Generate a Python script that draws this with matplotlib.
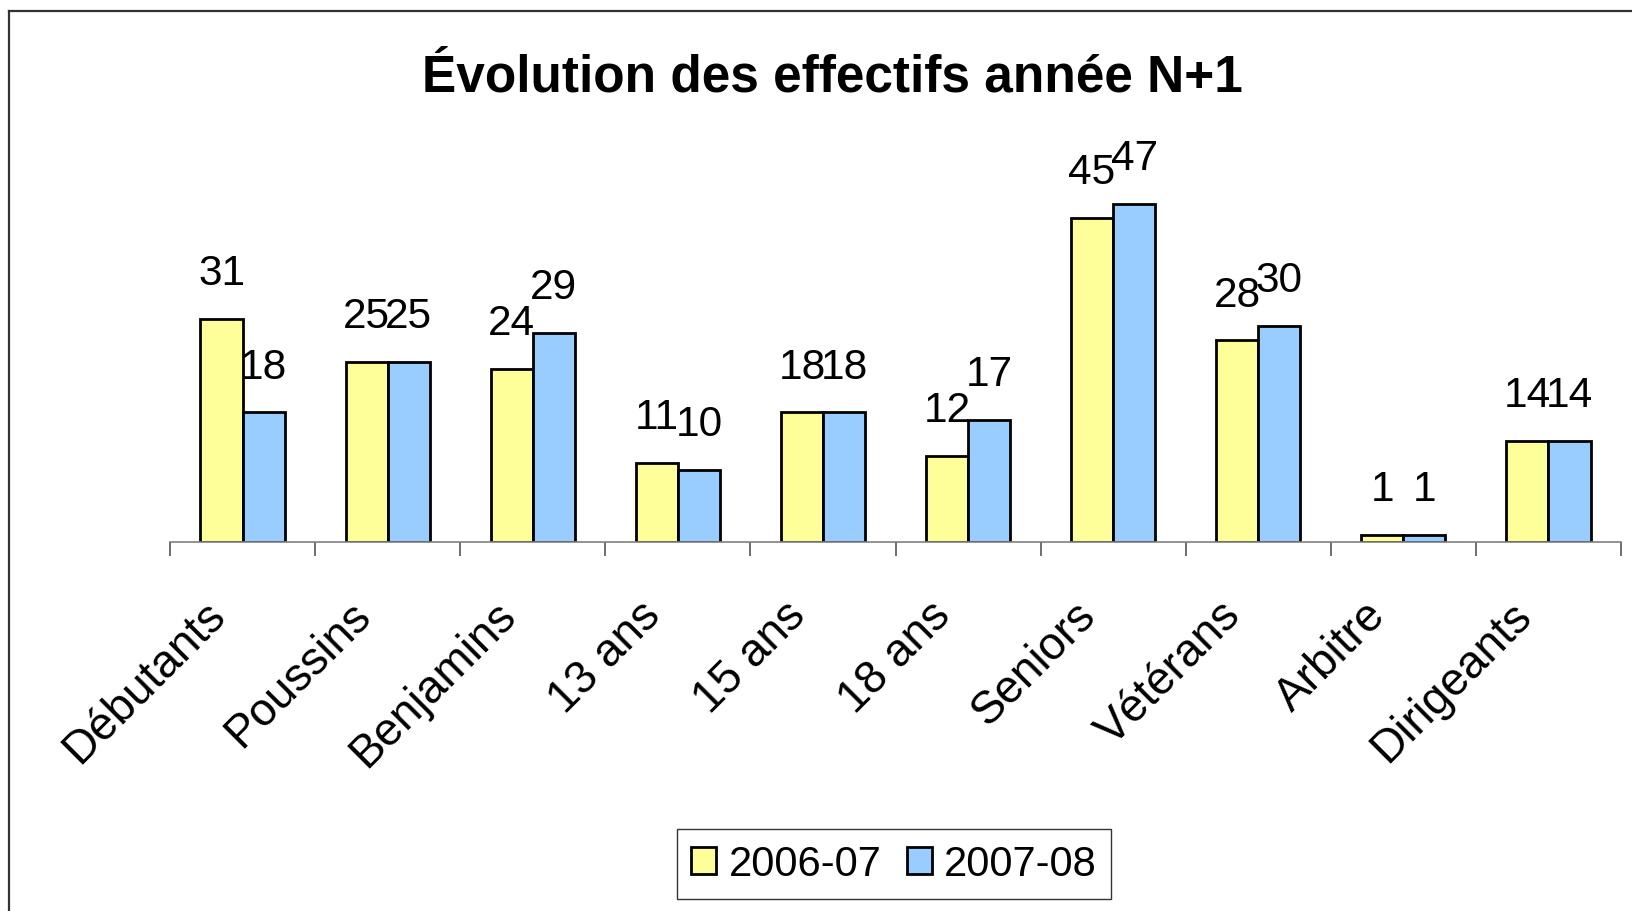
import matplotlib
matplotlib.use("Agg")
import matplotlib.pyplot as plt
import matplotlib.transforms as mtransforms
import numpy as np
from matplotlib.lines import Line2D

plt.rcParams['font.family'] = ['Liberation Sans', 'DejaVu Sans']

categories = ["Débutants", "Poussins", "Benjamins", "13 ans", "15 ans",
              "18 ans", "Seniors", "Vétérans", "Arbitre", "Dirigeants"]
saison_0607 = [31, 25, 24, 11, 18, 12, 45, 28, 1, 14]
saison_0708 = [18, 25, 29, 10, 18, 17, 47, 30, 1, 14]
series_names = ["2006-07", "2007-08"]

fig = plt.figure(figsize=(16.32, 9.12), dpi=100)
ax = fig.add_axes([170/1632, 1-543/912, (1621-170)/1632, 360/912])

x = np.arange(len(categories))
w = 0.29
b1 = ax.bar(x - w/2, saison_0607, w, color="#FFFF99", edgecolor="black",
            linewidth=2, label=series_names[0])
b2 = ax.bar(x + w/2, saison_0708, w, color="#99CCFF", edgecolor="black",
            linewidth=2, label=series_names[1])

for bars in (b1, b2):
    for r in bars:
        ax.annotate(str(int(r.get_height())),
                    (r.get_x() + r.get_width()/2, r.get_height()),
                    xytext=(0, 25), textcoords="offset points",
                    ha="center", va="baseline", fontsize=30.5, annotation_clip=False)

ax.set_xlim(-0.5, len(categories) - 0.5)
ax.set_ylim(0, 50)
ax.set_yticks([])
for s in ("top", "right", "left"):
    ax.spines[s].set_visible(False)
ax.spines["bottom"].set_color("#808080")
ax.spines["bottom"].set_linewidth(1.2)

ax.set_xticks(x)
ax.set_xticklabels(categories, rotation=45, ha="right", va="center",
                   rotation_mode="anchor", fontsize=33)
ax.tick_params(axis="x", which="major", length=0, pad=36)
shift = mtransforms.ScaledTranslation(-24/100, -16/100, fig.dpi_scale_trans)
for lab in ax.get_xticklabels():
    lab.set_transform(lab.get_transform() + shift)
ax.set_xticks(np.arange(len(categories) + 1) - 0.5, minor=True)
ax.tick_params(axis="x", which="minor", length=10, color="#555555", width=1.2)

fig.text(0.51, 1-78/912, "Évolution des effectifs année N+1",
         ha="center", va="center", fontsize=37, fontweight="bold")

leg = fig.legend(loc="center", bbox_to_anchor=(894/1632, 1-865/912),
                 ncol=2, fontsize=30, frameon=True, fancybox=False,
                 handlelength=0.6, handleheight=0.6, handletextpad=0.3,
                 columnspacing=0.6, borderpad=0.35)
leg.get_frame().set_edgecolor("black")
leg.get_frame().set_linewidth(1)

# chart area border (only top and left edges are in the picture)
fig.add_artist(Line2D([9/1632, 1.01], [1-12/912, 1-12/912], transform=fig.transFigure,
                      color="#333333", linewidth=1.6))
fig.add_artist(Line2D([9/1632, 9/1632], [-0.01, 1-12/912], transform=fig.transFigure,
                      color="#333333", linewidth=1.6))

fig.savefig("out.png", dpi=100)
